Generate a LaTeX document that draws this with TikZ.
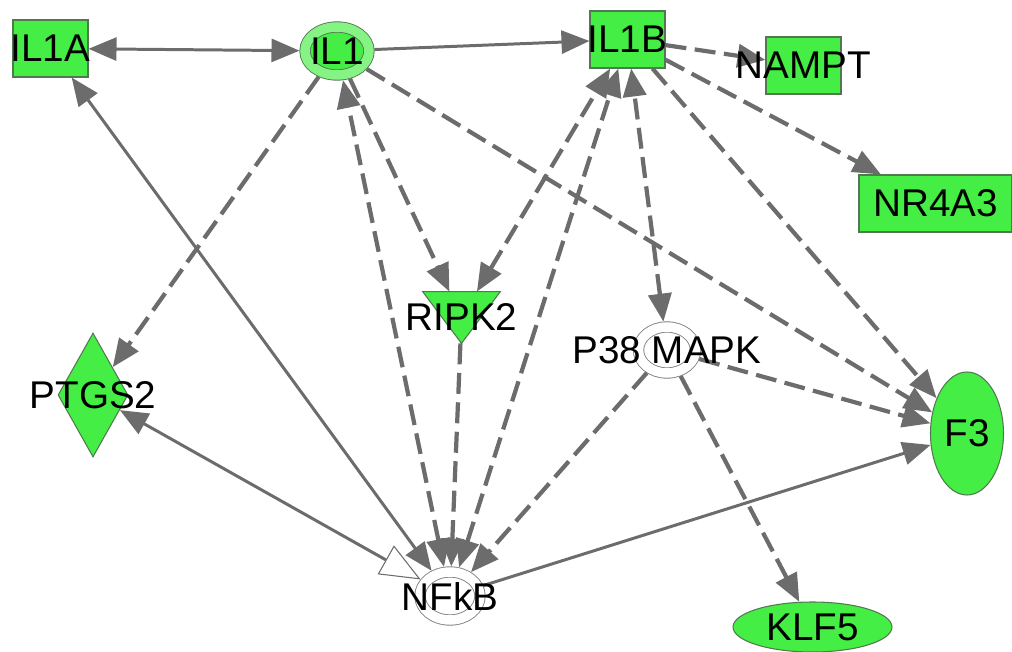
\documentclass[tikz,border=0pt]{standalone}
\usepackage{fontspec}
\setmainfont{Liberation Sans}
\usetikzlibrary{shapes.geometric,arrows.meta}

\definecolor{genegreen}{RGB}{68,238,68}
\definecolor{geneborder}{RGB}{82,120,82}
\definecolor{edgegray}{RGB}{108,108,108}
\newcommand{\genefont}{\fontsize{22}{26}\selectfont}

\tikzstyle{gene}=[draw=geneborder,fill=genegreen,inner sep=0pt,line width=0.6pt]
\tikzstyle{genebox}=[gene,rectangle]
\tikzstyle{geneoval}=[gene,ellipse]
\tikzstyle{genediamond}=[gene,diamond]
\tikzstyle{genetriangle}=[rectangle,inner sep=0pt]
\tikzstyle{familyoval}=[ellipse,inner sep=0pt,outer sep=0.11cm,draw=geneborder,fill=genegreen,double=genegreen!65!white,double distance=0.19cm,line width=0.5pt]
\tikzstyle{complexoval}=[ellipse,inner sep=0pt,outer sep=0.11cm,draw=gray,fill=white,double=white,double distance=0.19cm,line width=0.5pt]
\tikzstyle{genelabel}=[font=\genefont,inner sep=0pt,text=black]
\tikzstyle{link}=[draw=edgegray,line width=1.7pt,>={Triangle[length=0.56cm,width=0.46cm]}]
\tikzstyle{solidto}=[link,->]
\tikzstyle{solidboth}=[link,<->]
\tikzstyle{solidopen}=[link,arrows={Triangle[open,fill=white,line width=0.6pt,length=0.8cm,width=0.66cm]-Triangle[length=0.56cm,width=0.46cm]}]
\tikzstyle{dashedto}=[link,->,line width=2.4pt,dash pattern=on 0.42cm off 0.17cm]
\tikzstyle{dashedboth}=[dashedto,<->]

\begin{document}
\begin{tikzpicture}[x=0.02cm,y=-0.02cm]
    \useasboundingbox (0,0) rectangle (1012,652);

    \foreach \nodename/\x/\y/\kind/\w/\h in {
      ilA/50.5/48.5/genebox/75/57,
      il/337/51/familyoval/64/48,
      ilB/627.5/39.5/genebox/75/57,
      nampt/803.5/65.5/genebox/75/57,
      nr/935.5/203.5/genebox/153/57,
      ptgs/93/395/genediamond/70/124,
      ripk/461.5/317.5/genetriangle/77/51,
      p38/667/350/complexoval/57/46,
      f3/967/433.5/geneoval/73/123,
      klf/812.5/627/geneoval/159/50,
      nfkb/450/596/complexoval/60/48}
    {
      \node[\kind,minimum width=\w*0.02cm,minimum height=\h*0.02cm] (\nodename) at (\x,\y) {};
    }
    \filldraw[gene] (ripk.north west) -- (ripk.north east) -- (ripk.south) -- cycle;

    %edges
    \path
    \foreach \startnode/\endnode/\kind in {
      ilA/il/solidboth, il/ilB/solidto, nfkb/ilA/solidboth, nfkb/ptgs/solidopen,
      nfkb/f3/solidto, il/ptgs/dashedto, il/ripk/dashedto, nfkb/il/dashedboth,
      il/f3/dashedto, ilB/nampt/dashedto, ilB/nr/dashedto, ilB/f3/dashedto,
      ripk/ilB/dashedboth, nfkb/ilB/dashedboth, p38/ilB/dashedboth,
      ripk/nfkb/dashedto, p38/nfkb/dashedto, p38/f3/dashedto, p38/klf/dashedto}
    {
      (\startnode) edge[\kind] (\endnode)
    };

    \foreach \nodename/\text in {
      ilA/IL1A, il/IL1, ilB/IL1B, nampt/NAMPT, nr/NR4A3, ptgs/PTGS2,
      ripk/RIPK2, p38/P38 MAPK, f3/F3, klf/KLF5, nfkb/NFkB}
    {
      \node[genelabel] at (\nodename.center) {\text};
    }
\end{tikzpicture}
\end{document}
